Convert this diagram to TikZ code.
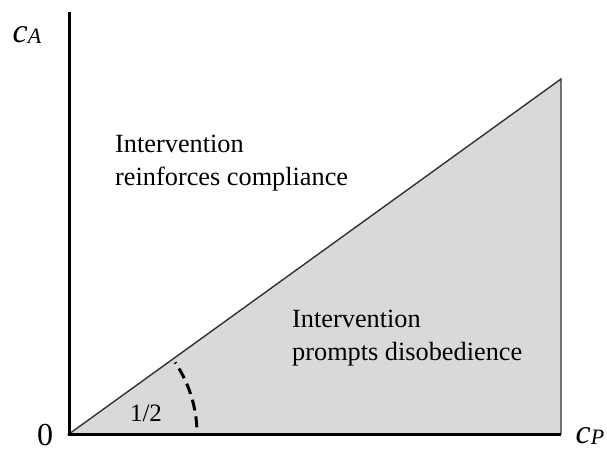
\documentclass[tikz,border=0pt]{standalone}
\usepackage{fontspec}
\setmainfont{Liberation Serif}
\usepackage{xcolor}
\definecolor{regiongray}{RGB}{217,217,217}
\definecolor{edgegray}{RGB}{50,50,50}
\usepackage{tikz}
\usetikzlibrary{positioning}

\begin{document}
\begin{tikzpicture}[x=1pt, y=1pt, every node/.style={inner sep=0pt}]
  \useasboundingbox (0,0) rectangle (607,452);
  \coordinate (o) at (69,18);
  \coordinate (ytop) at (69,440);
  \coordinate (xend) at (561,18);
  \coordinate (apex) at (561,373);
  \filldraw[fill=regiongray, draw=edgegray, line width=1.4pt] (o) -- (apex) -- (xend) -- cycle;
  \draw[line width=3pt] (ytop) -- (o) -- (xend);
  \draw[line width=3pt, dash pattern=on 11pt off 6pt] ([shift={(3:128)}]o) arc[start angle=3, end angle=34, radius=128];
  \node[anchor=west, align=left, font=\fontsize{26.3}{33}\selectfont] (comply) at (115,288.5) {Intervention\\reinforces compliance};
  \node[anchor=west, align=left, font=\fontsize{26.3}{33}\selectfont] (disobey) at (292,113.5) {Intervention\\prompts disobedience};
  \node[font=\fontsize{25}{25}\selectfont] (half) at (146,39) {1/2};
  \node[font=\fontsize{32}{32}\selectfont] (zero) at (45,17) {0};
  \node (ca) at (27,417) {\fontsize{34}{34}\selectfont\textit{c}\raisebox{-1pt}{\fontsize{22}{22}\selectfont\textit{A}}};
  \node (cp) at (590,16) {\fontsize{34}{34}\selectfont\textit{c}\raisebox{-1pt}{\fontsize{22}{22}\selectfont\textit{P}}};
\end{tikzpicture}
\end{document}
